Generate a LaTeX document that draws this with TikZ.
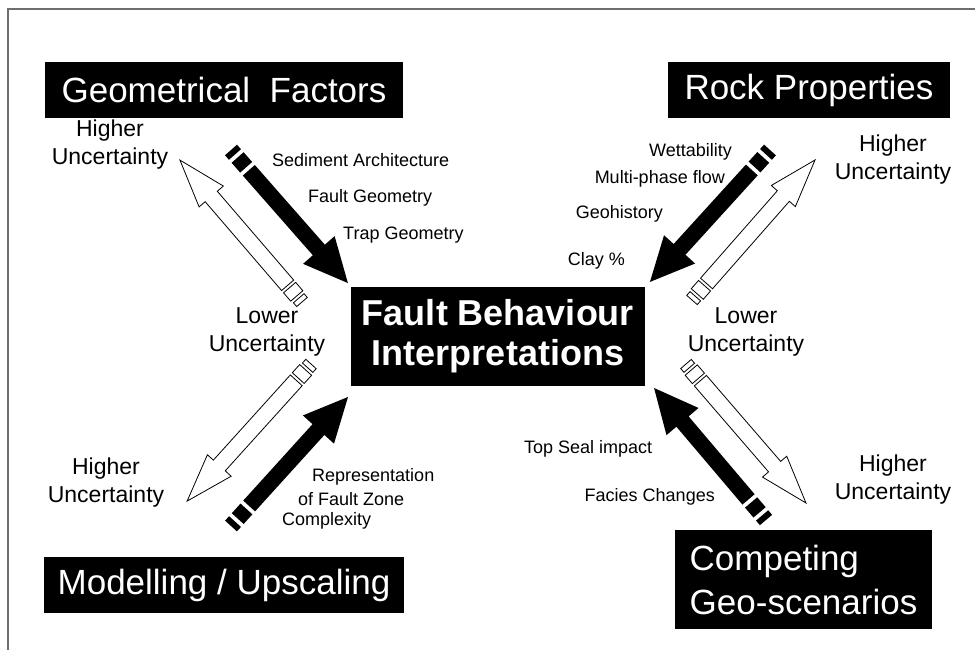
\documentclass[tikz,border=0pt]{standalone}
\usepackage{fontspec}
\setmainfont{Liberation Sans}
\definecolor{framegrey}{RGB}{110,110,110}

% solid arrow: tail x, tail y, angle, length
\newcommand{\solidarrow}[4]{%
	\begin{scope}[shift={(#1,#2)}, rotate=#3]
		\fill (0,-8) rectangle (6,8);
		\fill (10,-8) rectangle (23,8);
		\fill (27,-8) -- (#4-44,-8) -- (#4-44,-21) -- (#4,0) -- (#4-44,21) -- (#4-44,8) -- (27,8) -- cycle;
	\end{scope}
}
% hollow arrow: tail x, tail y, angle, length
\newcommand{\hollowarrow}[4]{%
	\begin{scope}[shift={(#1,#2)}, rotate=#3, fill=white, draw=black, line width=0.8pt]
		\filldraw (0,-7) rectangle (5,7);
		\filldraw (8,-8) rectangle (19,8);
		\filldraw (22,-8) -- (#4-48,-8) -- (#4-48,-16) -- (#4,0) -- (#4-48,16) -- (#4-48,8) -- (22,8) -- cycle;
	\end{scope}
}

\tikzset{
	title/.style={fill=black, text=white, font=\fontsize{35}{44}\selectfont, inner sep=0pt},
	note/.style={font=\fontsize{18}{21}\selectfont, inner sep=0pt},
	unc/.style={font=\fontsize{23}{28}\selectfont, inner sep=0pt, align=center}
}

\begin{document}
\begin{tikzpicture}[x=1pt, y=-1pt]
	\useasboundingbox (0,0) rectangle (975,650);
	\fill[white] (0,0) rectangle (975,650);
	\draw[framegrey, line width=1.5pt] (8,650) -- (8,9) -- (975,9);

	% boxes
	\node[title, minimum width=358, minimum height=56] (geom) at (224,90) {Geometrical\ \ Factors};
	\node[title, minimum width=282, minimum height=56] (rock) at (809,90) {Rock Properties};
	\node[title, minimum width=360, minimum height=56] (model) at (224,585) {Modelling / Upscaling};
	\node[title, minimum width=257, minimum height=99, align=left] (compete) at (803.5,579.5) {Competing\\Geo-scenarios};
	\node[title, minimum width=294, minimum height=99, align=center, font=\fontsize{36}{40}\bfseries] (fault) at (498,336.5) {Fault Behaviour\\Interpretations};

	% black arrows
	\solidarrow{231}{150}{-48.7}{177.1}
	\solidarrow{770}{150}{-132.3}{178.4}
	\solidarrow{231}{526}{47.8}{174.2}
	\solidarrow{766}{520}{130.3}{173.1}

	% white arrows
	\hollowarrow{302}{302}{130.7}{187.2}
	\hollowarrow{692}{300}{48.7}{186.4}
	\hollowarrow{311}{364}{-132.1}{184.8}
	\hollowarrow{686}{364}{-49.2}{183.6}

	% arrow notes
	\node[note, anchor=west] (sed) at (272,160) {Sediment Architecture};
	\node[note, anchor=west] (fgeo) at (308,198) {Fault Geometry};
	\node[note, anchor=west] (trap) at (343,235) {Trap Geometry};
	\node[note, anchor=east] (wet) at (732,152) {Wettability};
	\node[note, anchor=east] (multi) at (725,179) {Multi-phase flow};
	\node[note, anchor=east] (geoh) at (663,214) {Geohistory};
	\node[note, anchor=east] (clay) at (625,261) {Clay \%};
	\node[note, anchor=west] (rep1) at (312,477) {Representation};
	\node[note, anchor=west] (rep2) at (298,499) {of Fault Zone};
	\node[note, anchor=west] (rep3) at (282,521) {Complexity};
	\node[note, anchor=west] (seal) at (524,449) {Top Seal impact};
	\node[note, anchor=east] (facies) at (715,497) {Facies Changes};

	% uncertainty labels
	\node[unc] (hi1) at (110,145) {Higher\\Uncertainty};
	\node[unc] (hi2) at (893,160) {Higher\\Uncertainty};
	\node[unc] (lo1) at (267,332) {Lower\\Uncertainty};
	\node[unc] (lo2) at (746,332) {Lower\\Uncertainty};
	\node[unc] (hi3) at (106,483) {Higher\\Uncertainty};
	\node[unc] (hi4) at (893,480) {Higher\\Uncertainty};
\end{tikzpicture}
\end{document}
